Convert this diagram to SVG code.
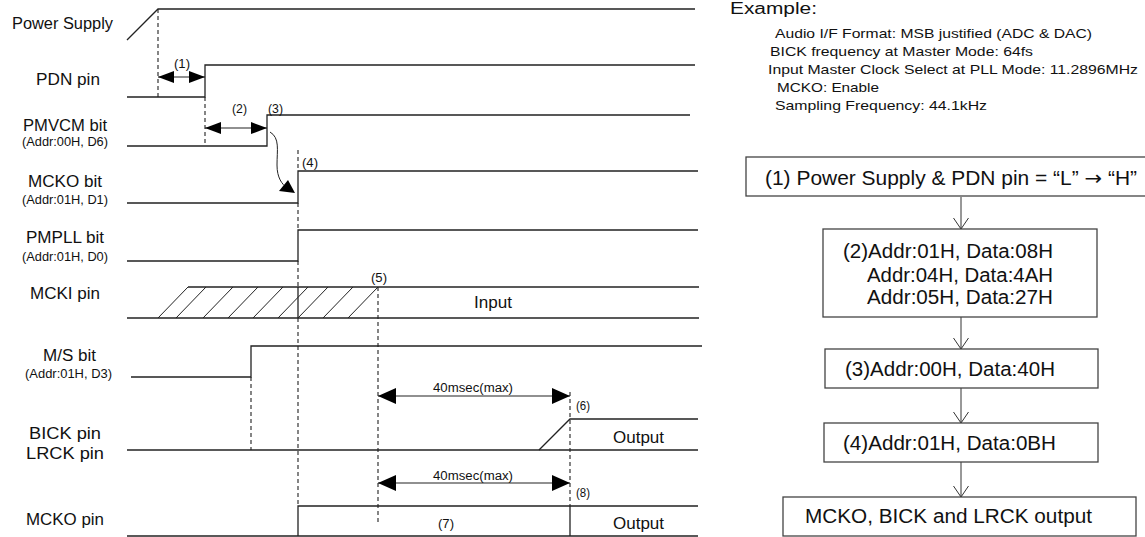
<svg xmlns="http://www.w3.org/2000/svg" width="1145" height="537" viewBox="0 0 1145 537">
<style>
text{font-family:"Liberation Sans",Arial,sans-serif;fill:#111}
.lbl{font-size:16px}
.sub{font-size:12.5px}
.num{font-size:12px}
.ex{font-size:13px}
.fc{font-size:20px}
.sig{fill:none;stroke:#222;stroke-width:1.3}
.dash{fill:none;stroke:#222;stroke-width:1.1;stroke-dasharray:4 3}
.hat{fill:none;stroke:#222;stroke-width:1}
.box{fill:#fff;stroke:#444;stroke-width:1.3}
.dim{fill:none;stroke:#222;stroke-width:1.2}
.fa{fill:none;stroke:#333;stroke-width:1}
.arw{font-family:"DejaVu Sans",sans-serif}
</style>
<defs>
<marker id="hs" viewBox="0 0 16 12" refX="16" refY="6" markerWidth="16" markerHeight="12" markerUnits="userSpaceOnUse" orient="auto-start-reverse"><path d="M0,0 L16,6 L0,12 Z" fill="#000"/></marker>
<marker id="hl" viewBox="0 0 18 16" refX="18" refY="8" markerWidth="18" markerHeight="16" markerUnits="userSpaceOnUse" orient="auto-start-reverse"><path d="M0,0 L18,8 L0,16 Z" fill="#000"/></marker>
<marker id="v" viewBox="0 0 12 16" refX="11" refY="8" markerWidth="12" markerHeight="16" markerUnits="userSpaceOnUse" orient="auto"><path d="M0,0.5 L11,8 L0,15.5" fill="none" stroke="#333" stroke-width="1"/></marker>
</defs>

<g id="labels">
<text class="lbl" x="12" y="29" textLength="101" lengthAdjust="spacingAndGlyphs">Power Supply</text>
<text class="lbl" x="36" y="85" textLength="64" lengthAdjust="spacingAndGlyphs">PDN pin</text>
<text class="lbl" x="23" y="131" textLength="84" lengthAdjust="spacingAndGlyphs">PMVCM bit</text>
<text class="sub" x="22" y="146" textLength="86" lengthAdjust="spacingAndGlyphs">(Addr:00H, D6)</text>
<text class="lbl" x="28" y="187" textLength="74" lengthAdjust="spacingAndGlyphs">MCKO bit</text>
<text class="sub" x="22" y="204" textLength="86" lengthAdjust="spacingAndGlyphs">(Addr:01H, D1)</text>
<text class="lbl" x="26" y="243" textLength="78" lengthAdjust="spacingAndGlyphs">PMPLL bit</text>
<text class="sub" x="22" y="261" textLength="86" lengthAdjust="spacingAndGlyphs">(Addr:01H, D0)</text>
<text class="lbl" x="30" y="299" textLength="70" lengthAdjust="spacingAndGlyphs">MCKI pin</text>
<text class="lbl" x="43" y="361" textLength="53" lengthAdjust="spacingAndGlyphs">M/S bit</text>
<text class="sub" x="25" y="378" textLength="87" lengthAdjust="spacingAndGlyphs">(Addr:01H, D3)</text>
<text class="lbl" x="29" y="439" textLength="72" lengthAdjust="spacingAndGlyphs">BICK  pin</text>
<text class="lbl" x="26" y="459" textLength="78" lengthAdjust="spacingAndGlyphs">LRCK  pin</text>
<text class="lbl" x="26" y="525" textLength="78" lengthAdjust="spacingAndGlyphs">MCKO pin</text>
</g>

<g id="signals">
<polyline class="sig" points="127,40 158,9 695,9"/>
<polyline class="sig" points="127,97 205,97 205,65 695,65"/>
<polyline class="sig" points="127,146 267,146 267,115 690,115"/>
<polyline class="sig" points="127,203 298,203 298,171 698,171"/>
<polyline class="sig" points="127,261 298,261 298,230 698,230"/>
<line class="sig" x1="127" y1="318" x2="699" y2="318"/>
<line class="sig" x1="188" y1="287" x2="699" y2="287"/>
<line class="sig" x1="298" y1="287" x2="298" y2="318"/>
<g class="hat">
<line x1="158" y1="318" x2="188" y2="287"/>
<line x1="176" y1="318" x2="206" y2="287"/>
<line x1="203" y1="318" x2="233" y2="287"/>
<line x1="228" y1="318" x2="258" y2="287"/>
<line x1="253" y1="318" x2="283" y2="287"/>
<line x1="278" y1="318" x2="308" y2="287"/>
<line x1="298" y1="318" x2="328" y2="287"/>
<line x1="323" y1="318" x2="353" y2="287"/>
<line x1="348" y1="318" x2="378" y2="287"/>
</g>
<polyline class="sig" points="131,377 251,377 251,346 702,346"/>
<polyline class="sig" points="127,450 698,450"/>
<polyline class="sig" points="539,450 570,419 698,419"/>
<polyline class="sig" points="127,536 698,536"/>
<polyline class="sig" points="298,536 298,506 698,506"/>
<line class="sig" x1="570" y1="506" x2="570" y2="536"/>
</g>

<g id="connectors">
<line class="dash" x1="158" y1="9" x2="158" y2="97"/>
<line class="dash" x1="205" y1="97" x2="205" y2="145"/>
<line class="dash" x1="298" y1="150" x2="298" y2="171"/>
<line class="dash" x1="298" y1="203" x2="298" y2="230"/>
<line class="dash" x1="298" y1="261" x2="298" y2="287"/>
<line class="dash" x1="298" y1="318" x2="298" y2="506"/>
<line class="dash" x1="378" y1="287" x2="378" y2="525"/>
<line class="dash" x1="251" y1="377" x2="251" y2="450"/>
<line class="dash" x1="570" y1="392" x2="570" y2="506"/>
<line class="dim" x1="158" y1="77" x2="205" y2="77" marker-start="url(#hs)" marker-end="url(#hs)"/>
<line class="dim" x1="205" y1="128" x2="267" y2="128" marker-start="url(#hs)" marker-end="url(#hs)"/>
<line class="dim" x1="378" y1="396" x2="570" y2="396" marker-start="url(#hl)" marker-end="url(#hl)"/>
<line class="dim" x1="378" y1="483" x2="570" y2="483" marker-start="url(#hl)" marker-end="url(#hl)"/>
<path d="M270,132 C280,138 277,150 277,165 C277,178 282,184 287,188" fill="none" stroke="#222" stroke-width="1"/>
<path d="M279,191 L295,193 L288,180 Z" fill="#000"/>
<line class="fa" x1="961" y1="197" x2="961" y2="229" marker-end="url(#v)"/>
<line class="fa" x1="961" y1="317" x2="961" y2="349" marker-end="url(#v)"/>
<line class="fa" x1="961" y1="388" x2="961" y2="423" marker-end="url(#v)"/>
<line class="fa" x1="961" y1="462" x2="961" y2="497" marker-end="url(#v)"/>
</g>

<g id="marks">
<text class="num" x="174" y="68" textLength="16" lengthAdjust="spacingAndGlyphs">(1)</text>
<text class="num" x="232" y="113" textLength="15" lengthAdjust="spacingAndGlyphs">(2)</text>
<text class="num" x="268" y="113" textLength="15" lengthAdjust="spacingAndGlyphs">(3)</text>
<text class="num" x="302" y="167" textLength="16" lengthAdjust="spacingAndGlyphs">(4)</text>
<text class="num" x="371" y="282" textLength="16" lengthAdjust="spacingAndGlyphs">(5)</text>
<text class="num" x="576" y="410" textLength="14" lengthAdjust="spacingAndGlyphs">(6)</text>
<text class="num" x="438" y="528" textLength="16" lengthAdjust="spacingAndGlyphs">(7)</text>
<text class="num" x="576" y="497" textLength="14" lengthAdjust="spacingAndGlyphs">(8)</text>
<text class="num" x="433" y="392" textLength="80" lengthAdjust="spacingAndGlyphs">40msec(max)</text>
<text class="num" x="433" y="480" textLength="80" lengthAdjust="spacingAndGlyphs">40msec(max)</text>
<text class="lbl" x="474" y="308" textLength="38" lengthAdjust="spacingAndGlyphs">Input</text>
<text class="lbl" x="613" y="443" textLength="51" lengthAdjust="spacingAndGlyphs">Output</text>
<text class="lbl" x="613" y="529" textLength="51" lengthAdjust="spacingAndGlyphs">Output</text>
</g>

<g id="example">
<text class="lbl" x="730" y="14" font-size="17" textLength="87" lengthAdjust="spacingAndGlyphs">Example:</text>
<text class="ex" x="775" y="37.5" textLength="317" lengthAdjust="spacingAndGlyphs">Audio I/F Format: MSB justified (ADC &amp; DAC)</text>
<text class="ex" x="770" y="56" textLength="263" lengthAdjust="spacingAndGlyphs">BICK frequency at Master Mode: 64fs</text>
<text class="ex" x="768" y="74" textLength="370" lengthAdjust="spacingAndGlyphs">Input Master Clock Select at PLL Mode: 11.2896MHz</text>
<text class="ex" x="777" y="92" textLength="102" lengthAdjust="spacingAndGlyphs">MCKO: Enable</text>
<text class="ex" x="775" y="110" textLength="212" lengthAdjust="spacingAndGlyphs">Sampling Frequency: 44.1kHz</text>
</g>

<g id="step1">
<rect class="box" x="746" y="157" width="404" height="39"/>
<text class="fc" x="765" y="185" textLength="372" lengthAdjust="spacingAndGlyphs">(1) Power Supply &amp; PDN pin = “L” <tspan class="arw">→</tspan> “H”</text>
</g>
<g id="step2">
<rect class="box" x="823" y="229" width="274" height="88"/>
<text class="fc" x="843" y="258" textLength="210" lengthAdjust="spacingAndGlyphs">(2)Addr:01H, Data:08H</text>
<text class="fc" x="867" y="282" textLength="186" lengthAdjust="spacingAndGlyphs">Addr:04H, Data:4AH</text>
<text class="fc" x="867" y="304" textLength="186" lengthAdjust="spacingAndGlyphs">Addr:05H, Data:27H</text>
</g>
<g id="step3">
<rect class="box" x="825" y="349" width="273" height="39"/>
<text class="fc" x="845" y="376" textLength="210" lengthAdjust="spacingAndGlyphs">(3)Addr:00H, Data:40H</text>
</g>
<g id="step4">
<rect class="box" x="824" y="423" width="274" height="39"/>
<text class="fc" x="843" y="450" textLength="213" lengthAdjust="spacingAndGlyphs">(4)Addr:01H, Data:0BH</text>
</g>
<g id="step5">
<rect class="box" x="783" y="497" width="353" height="39"/>
<text class="fc" x="805" y="523" textLength="287" lengthAdjust="spacingAndGlyphs">MCKO, BICK and LRCK output</text>
</g>
</svg>
